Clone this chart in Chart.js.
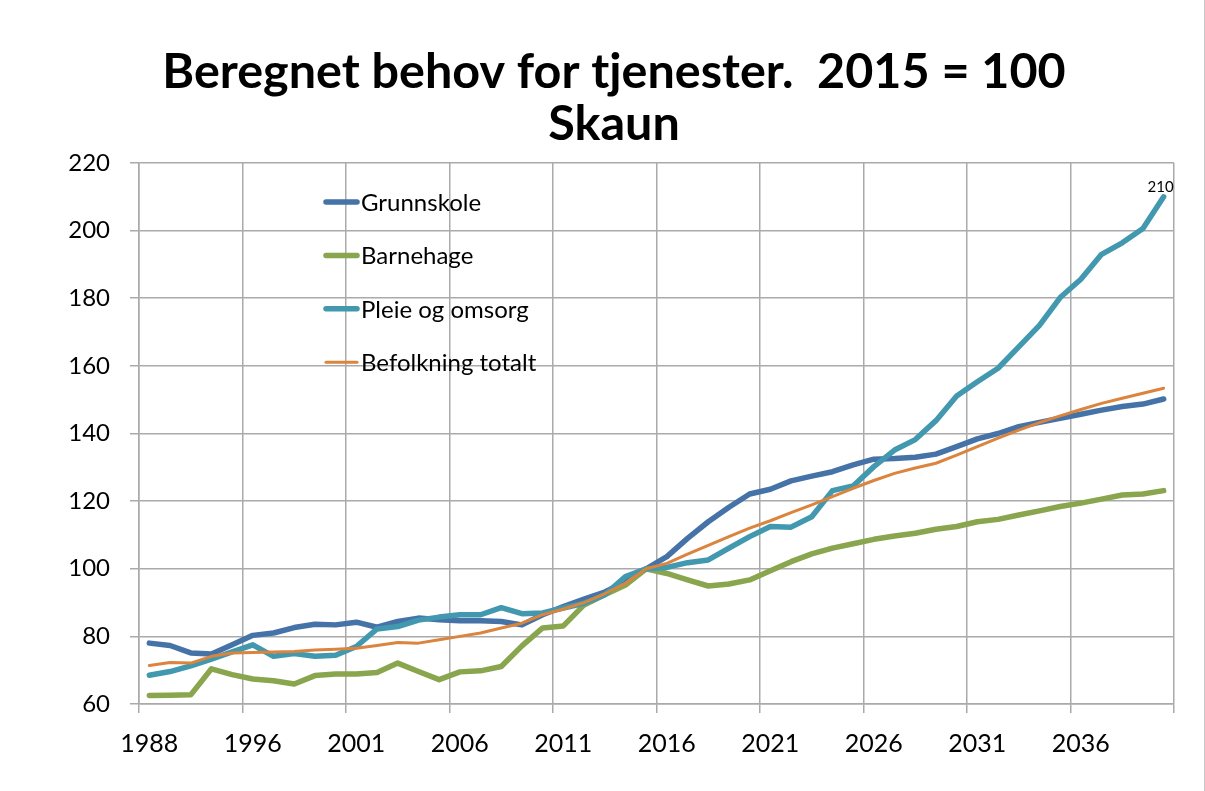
<!DOCTYPE html>
<html>
<head>
<meta charset="utf-8">
<script src="https://cdn.jsdelivr.net/npm/chart.js@4/dist/chart.umd.min.js"></script>
<style>
  html, body { margin: 0; padding: 0; background: #fff; }
  #wrap { width: 1205px; height: 791px; position: relative; box-sizing: border-box; border-right: 1px solid #c8c8c8; }
</style>
</head>
<body>
<div id="wrap"><canvas id="myChart" width="1204" height="791"></canvas></div>
<script>
const years = ['1988', '1990', '1992', '1994', '1995',
    '1996', '1997', '1998', '1999', '2000', '2001', '2002', '2003', '2004', '2005',
    '2006', '2007', '2008', '2009', '2010', '2011', '2012', '2013', '2014', '2015',
    '2016', '2017', '2018', '2019', '2020', '2021', '2022', '2023', '2024', '2025',
    '2026', '2027', '2028', '2029', '2030', '2031', '2032', '2033', '2034', '2035',
    '2036', '2037', '2038', '2039', '2040']

const seriesNames = ['Grunnskole', 'Barnehage', 'Pleie og omsorg', 'Befolkning totalt']

const grunnskole = [78.0, 77.3, 75.1, 74.8, 77.5, 80.3, 81.0, 82.6, 83.6, 83.4,
    84.2, 82.7, 84.4, 85.4, 84.9, 84.6, 84.6, 84.4, 83.4, 86.4,
    88.8, 91.0, 93.1, 96.2, 100.0, 103.6, 109.0, 113.9, 118.2, 122.1,
    123.5, 126.0, 127.4, 128.7, 130.7, 132.4, 132.6, 133.0, 133.9, 136.1,
    138.4, 140.0, 142.0, 143.3, 144.5, 145.7, 146.9, 148.0, 148.7, 150.2]

const barnehage = [62.5, 62.6, 62.7, 70.4, 68.7, 67.4, 66.9, 65.9, 68.4, 68.9,
    68.9, 69.3, 72.1, 69.6, 67.2, 69.5, 69.8, 71.1, 77.2, 82.5,
    83.1, 89.3, 92.3, 95.2, 100.0, 98.6, 96.7, 94.9, 95.5, 96.7,
    99.4, 102.1, 104.4, 106.1, 107.4, 108.7, 109.7, 110.5, 111.7, 112.5,
    113.9, 114.6, 115.9, 117.1, 118.4, 119.4, 120.6, 121.8, 122.1, 123.1]

const pleie = [68.5, 69.6, 71.3, 73.3, 75.4, 77.5, 74.1, 74.9, 74.1, 74.4,
    77.0, 82.2, 82.9, 84.8, 85.7, 86.4, 86.4, 88.5, 86.7, 86.9,
    88.4, 89.8, 92.3, 97.7, 100.0, 100.4, 101.8, 102.6, 106.1, 109.5,
    112.5, 112.3, 115.4, 123.1, 124.5, 130.2, 135.1, 138.2, 143.8, 151.1,
    155.3, 159.3, 165.6, 172.0, 180.2, 185.6, 193.0, 196.4, 200.6, 210.0]

const befolkning = [71.4, 72.3, 72.1, 74.1, 75.1, 75.2, 75.4, 75.5, 76.0, 76.2,
    76.5, 77.3, 78.2, 78.0, 79.0, 80.0, 81.0, 82.5, 83.9, 86.4,
    88.1, 90.0, 92.6, 95.7, 100.0, 101.6, 104.3, 106.9, 109.5, 112.0,
    114.2, 116.6, 118.9, 121.3, 123.8, 126.1, 128.2, 129.8, 131.2, 133.6,
    136.1, 138.6, 141.0, 143.2, 145.2, 147.1, 148.9, 150.4, 151.9, 153.4]

const yTicks = [60, 80, 100, 120, 140, 160, 180, 200, 220]

const colors = ['#4572a7', '#89a54e', '#4198af', '#db843d']
const widths = [5.5, 5.5, 5.5, 3]
const gridColor = '#aaaaaa'
const FONT = 'Lato, "Open Sans", sans-serif'

// legend sits inside the plot, Excel style
const insideLegend = {
    id: 'insideLegend',
    afterDatasetsDraw(chart) {
        const ctx = chart.ctx
        ctx.save()
        ctx.font = '24px ' + FONT
        ctx.textBaseline = 'middle'
        ctx.lineCap = 'round'
        seriesNames.forEach((name, i) => {
            const y = 202 + i * 53.4
            ctx.strokeStyle = colors[i]
            ctx.lineWidth = widths[i]
            ctx.beginPath()
            ctx.moveTo(326, y)
            ctx.lineTo(357, y)
            ctx.stroke()
            ctx.fillStyle = '#000'
            ctx.fillText(name, 361, y + 1)
        })
        // value label on last Pleie point
        const meta = chart.getDatasetMeta(2)
        const last = meta.data[meta.data.length - 1]
        ctx.font = '15px ' + FONT
        ctx.textAlign = 'center'
        ctx.textBaseline = 'bottom'
        ctx.fillText(String(Math.round(pleie[pleie.length - 1])), last.x - 3, last.y - 2)
        ctx.restore()
    }
}

const datasets = [grunnskole, barnehage, pleie, befolkning].map((d, i) => ({
    label: seriesNames[i],
    data: d,
    borderColor: colors[i],
    backgroundColor: colors[i],
    borderWidth: widths[i],
    pointRadius: 0,
    tension: 0,
    borderJoinStyle: 'round',
    borderCapStyle: 'round',
    order: 4 - i
}))

new Chart(document.getElementById('myChart'), {
    type: 'line',
    data: { labels: years, datasets },
    plugins: [insideLegend],
    options: {
        responsive: false,
        animation: false,
        layout: { padding: { left: 54, right: 30, top: 0, bottom: 0 } },
        plugins: {
            legend: { display: false },
            tooltip: { enabled: false },
            title: {
                display: true,
                text: ['Beregnet behov for tjenester.  2015 = 100', 'Skaun'],
                color: '#000',
                font: { family: FONT, size: 48.5, weight: 'bold', lineHeight: 1.072 },
                padding: { top: 46, bottom: 13 }
            }
        },
        scales: {
            x: {
                type: 'category',
                offset: true,
                afterFit: (s) => { s.height = 87 },
                grid: {
                    offset: true,
                    color: (c) => (c.index === undefined || c.index % 5 === 0) ? gridColor : 'transparent',
                    lineWidth: 1.5,
                    tickLength: 9
                },
                border: { color: gridColor, width: 1.5 },
                ticks: {
                    autoSkip: false,
                    maxRotation: 0,
                    minRotation: 0,
                    padding: 16,
                    color: '#000',
                    font: { family: FONT, size: 25 },
                    callback: (v, i) => i % 5 === 0 ? years[i] : ''
                }
            },
            y: {
                min: 60,
                max: 220,
                afterFit: (s) => { s.width = 85 },
                afterBuildTicks: (s) => { s.ticks = yTicks.map(v => ({ value: v })) },
                grid: { color: gridColor, lineWidth: 1.5, tickLength: 9 },
                border: { color: gridColor, width: 1.5 },
                ticks: {
                    padding: 20,
                    color: '#000',
                    font: { family: FONT, size: 24 }
                }
            }
        }
    }
})
</script>
</body>
</html>
